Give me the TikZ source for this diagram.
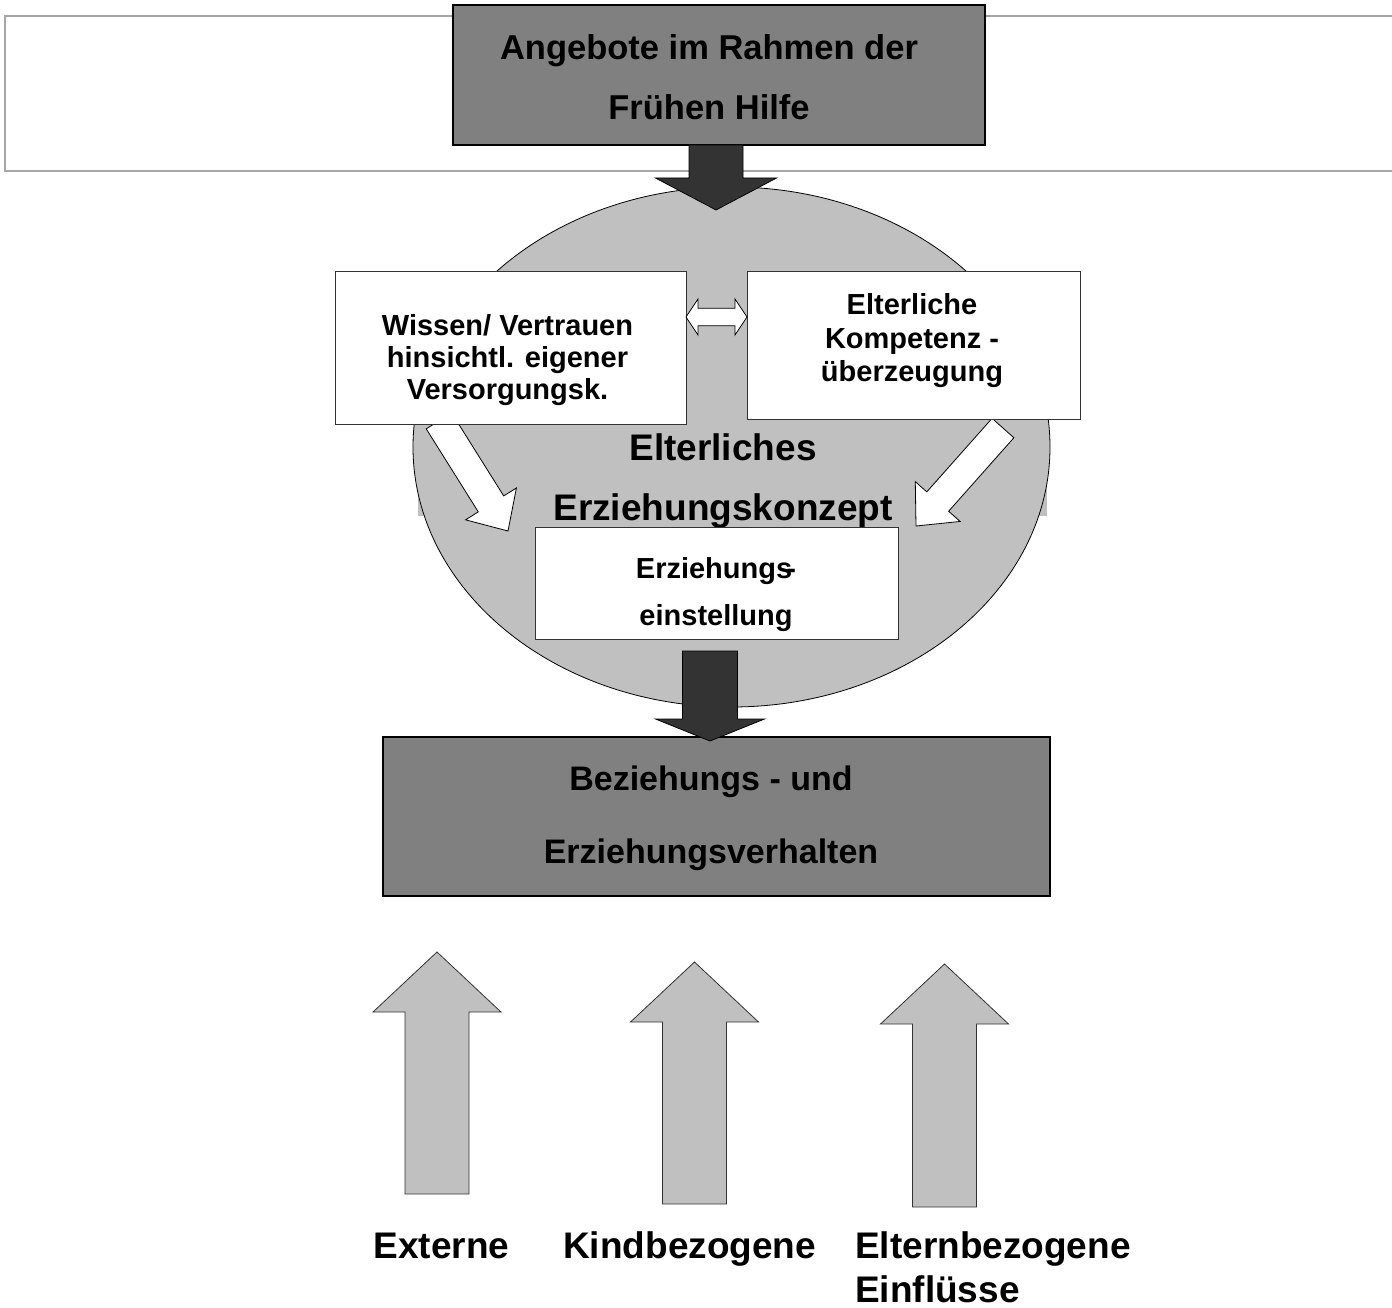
\documentclass[tikz,border=0pt]{standalone}
\usepackage{fontspec}
\setmainfont{Liberation Sans}
\usepackage{tikz}
\usetikzlibrary{shapes.geometric}
\definecolor{boxGray}{HTML}{808080}
\definecolor{arrowDark}{HTML}{333333}
\definecolor{shapeGray}{HTML}{C0C0C0}
\definecolor{frameGray}{HTML}{A6A6A6}
\newcommand{\blockArrow}[7][]{%
  \begin{scope}[shift={#2}, rotate=#3]
    \draw[#1] (0,0) -- (-#7,#6) -- (-#7,#5) -- (-#4,#5) -- (-#4,-#5) -- (-#7,-#5) -- (-#7,-#6) -- cycle;
  \end{scope}}

\begin{document}
\begin{tikzpicture}[x=1pt, y=-1pt,
			darkBox/.style={shape=rectangle, draw=black, fill=boxGray, line width=1.2pt, inner sep=0pt},
			whiteBox/.style={shape=rectangle, draw=black!80, fill=white, line width=0.8pt, inner sep=0pt},
			darkArrow/.style={draw=black, fill=arrowDark, line width=0.8pt},
			whiteArrow/.style={draw=black, fill=white, line width=0.8pt},
			lightArrow/.style={draw=black!80, fill=shapeGray, line width=0.8pt},
			bigText/.style={font=\fontsize{34.5}{59.5}\selectfont\bfseries, align=center, inner sep=0pt},
			smallText/.style={font=\fontsize{29}{#1}\selectfont\bfseries, align=center, inner sep=0pt},
			labelText/.style={font=\fontsize{37}{40}\selectfont\bfseries, inner sep=0pt}]
  \useasboundingbox (0,0) rectangle (1392,1308);
  \draw[frameGray, line width=1.2pt] (1392,16) -- (5,16) -- (5,171) -- (1392,171);
  \node[darkBox, minimum width=532, minimum height=140] (angebote) at (719,75) {};
  \node[bigText] (angeboteText) at (709,77) {Angebote im Rahmen der\\Frühen Hilfe};
  \fill[shapeGray] (418,430) rectangle (1047,516);
  \node[ellipse, draw=black, fill=shapeGray, line width=0.8pt, inner sep=0pt,
        minimum width=637, minimum height=520] (konzept) at (731.5,447) {};
  \blockArrow[darkArrow]{(716,210)}{-90}{65}{27}{60.5}{32}
  \blockArrow[whiteArrow]{(508,531)}{-57.9}{130}{15}{30}{32}
  \blockArrow[whiteArrow]{(916,526)}{-131.6}{131}{14.6}{30}{32.7}
  \node[whiteBox, minimum width=351, minimum height=153] (wissen) at (510.5,347.5) {};
  \node[smallText=32] (wissenText) at (507.5,360.5) {Wissen/ Vertrauen\\hinsichtl. eigener\\Versorgungsk.};
  \node[whiteBox, minimum width=333, minimum height=148] (kompetenz) at (913.5,345) {};
  \node[smallText=33.5] (kompetenzText) at (912,341) {Elterliche\\Kompetenz -\\überzeugung};
  \draw[whiteArrow] (686,317) -- (698,299) -- (698,308.3) -- (735,308.3) -- (735,299) -- (747,317)
    -- (735,335) -- (735,325.7) -- (698,325.7) -- (698,335) -- cycle;
  \node[labelText, font=\fontsize{37}{60}\selectfont\bfseries, align=center] (konzeptText) at (723,481) {Elterliches\\Erziehungskonzept};
  \node[whiteBox, minimum width=363, minimum height=112] (einstellung) at (716.5,583) {};
  \node[smallText=47] (einstellungText) at (716,595) {Erziehungs\kern-0.2em-\\einstellung};
  \node[darkBox, minimum width=667, minimum height=159] (verhalten) at (716.5,816.5) {};
  \node[bigText, font=\fontsize{34}{73}\selectfont\bfseries] (verhaltenText) at (711,818) {Beziehungs - und\\Erziehungsverhalten};
  \blockArrow[darkArrow]{(710,741)}{-90}{90}{27.5}{54.5}{22}
  \foreach \tipx/\tipy/\len in {437/952/242, 694.5/962/242, 944.5/964/243}
    \blockArrow[lightArrow]{(\tipx,\tipy)}{90}{\len}{32}{64}{60};
  \node[labelText, anchor=base west] (extern) at (373.5,1258) {Externe};
  \node[labelText, anchor=base west] (kind) at (563,1258) {Kindbezogene};
  \node[labelText, anchor=base west] (eltern) at (855,1258) {Elternbezogene};
  \node[labelText, anchor=base west] (einfluss) at (855,1302) {Einflüsse};
\end{tikzpicture}
\end{document}
